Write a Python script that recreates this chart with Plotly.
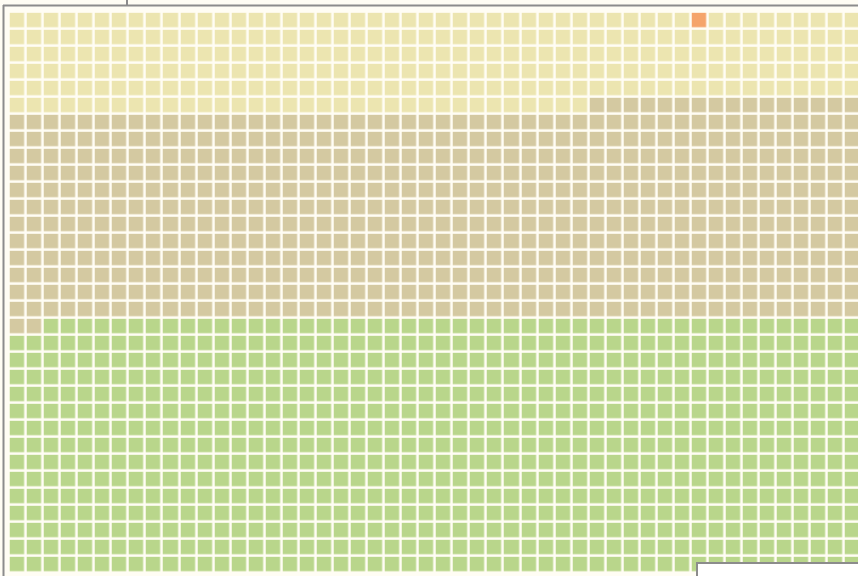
import numpy as np
import plotly.graph_objects as go

# ---- data: waffle runs in row-major order ----
categories = ["Category A", "Category B", "Category C", "Category D"]
colors = ["#ECE5B0", "#D4C9A1", "#B9D68B", "#F5A46A"]
run_categories = ["Category A", "Category D", "Category A", "Category B", "Category C"]
run_counts = [40, 1, 243, 618, 748]
n_cols = 50
n_rows = 33

# ---- build the grid ----
seq = []
for cat, cnt in zip(run_categories, run_counts):
    seq += [categories.index(cat)] * cnt
z = np.array(seq, dtype=float).reshape(n_rows, n_cols)
text = [[categories[int(v)] for v in row] for row in z]

ncat = len(categories)
colorscale = [[i / (ncat - 1), c] for i, c in enumerate(colors)]

fig = go.Figure(go.Heatmap(
    z=z, x=list(range(n_cols)), y=list(range(n_rows)),
    text=text, hovertemplate="%{text}<extra></extra>",
    colorscale=colorscale, zmin=0, zmax=ncat - 1, showscale=False,
    xgap=2.6, ygap=2.6,
))

W, H = 858, 576
def px(x):
    return x / W
def py(y):
    return 1 - y / H

line_col = "#8C8C8C"
shapes = [
    # outer frame top and left
    dict(type="line", xref="paper", yref="paper", x0=px(3), x1=px(W + 5), y0=py(5.5), y1=py(5.5),
         line=dict(color=line_col, width=2)),
    dict(type="line", xref="paper", yref="paper", x0=px(3.5), x1=px(3.5), y0=py(5), y1=py(H + 5),
         line=dict(color=line_col, width=2)),
    dict(type="line", xref="paper", yref="paper", x0=px(127), x1=px(127), y0=py(-2), y1=py(5.5),
         line=dict(color=line_col, width=2)),
    # bottom-right overlay box
    dict(type="rect", xref="paper", yref="paper", x0=px(697), x1=px(W + 10), y0=py(563), y1=py(H + 10),
         fillcolor="white", line=dict(color=line_col, width=2), layer="above"),
]

fig.update_layout(
    width=W, height=H,
    margin=dict(l=0, r=0, t=0, b=0),
    paper_bgcolor="white", plot_bgcolor="#FFFDF4",
    xaxis=dict(range=[-1.012, 49.31], visible=False, fixedrange=True),
    yaxis=dict(range=[32.69, -1.194], visible=False, fixedrange=True),
    shapes=shapes,
    showlegend=False,
)

fig.write_html(
    "out.html",
    config={"displayModeBar": False},
    post_script="document.body.style.margin='0';document.body.style.overflow='hidden';",
)
